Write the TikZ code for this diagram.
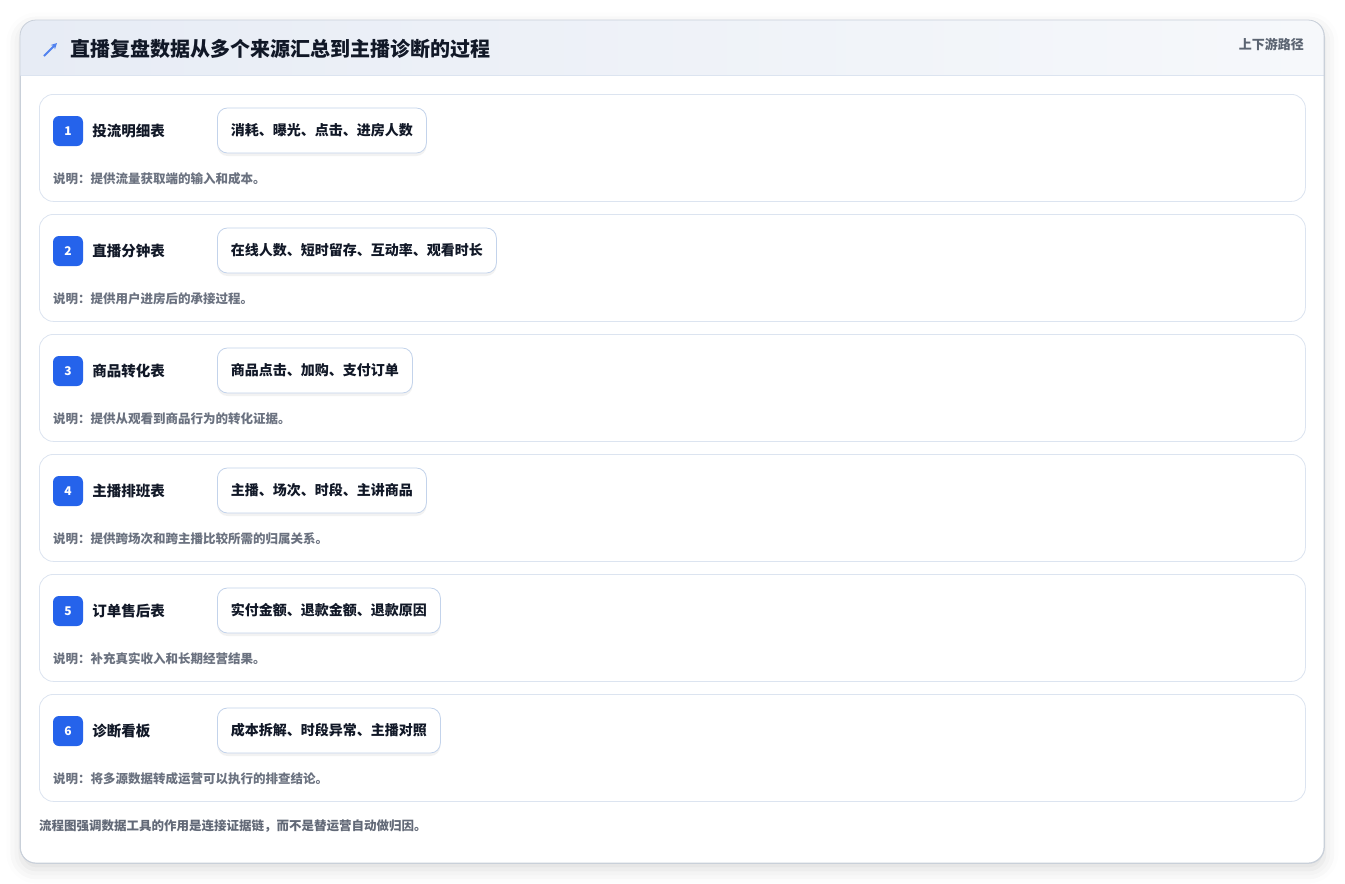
\documentclass[tikz,border=0pt]{standalone}
\usepackage{fontspec}
\setmainfont{Noto Sans CJK SC}
\usetikzlibrary{positioning,arrows.meta,shadows.blur}

\definecolor{ink}{HTML}{111827}
\definecolor{muted}{HTML}{6B7280}
\definecolor{edge}{HTML}{DCE4F0}
\definecolor{chipedge}{HTML}{C3D3EB}
\definecolor{badgeblue}{HTML}{2563EB}
\definecolor{headl}{HTML}{E7ECF5}
\definecolor{headr}{HTML}{F6F8FB}
\definecolor{tagtext}{HTML}{5B6472}

\begin{document}
\begin{tikzpicture}[x=1pt,y=-1pt,
    card/.style={draw=edge!80!gray, fill=white, rounded corners=16pt, line width=0.8pt,
        minimum width=1304pt, minimum height=843pt, anchor=north west,
        blur shadow={shadow xshift=0pt, shadow yshift=-6pt, shadow blur radius=14pt, shadow opacity=14}},
    row/.style={draw=edge, fill=white, rounded corners=14pt, line width=0.8pt,
        minimum width=1266pt, minimum height=107pt, anchor=north west},
    badge/.style={fill=badgeblue, rounded corners=6pt, minimum size=30pt, inner sep=0pt,
        text=white, font=\fontsize{12}{14}\selectfont\bfseries},
    label/.style={inner sep=0pt, anchor=west, text=ink, font=\fontsize{14.5}{17}\selectfont\bfseries},
    chip/.style={draw=chipedge, fill=white, rounded corners=10pt, line width=0.8pt,
        minimum height=45pt, inner xsep=13.5pt, anchor=west, text=ink,
        font=\fontsize{14}{16}\selectfont\bfseries,
        preaction={fill=black, opacity=0.05, transform canvas={yshift=-3pt}}},
    note/.style={inner sep=0pt, anchor=west, text=muted, font=\fontsize{12.5}{15}\selectfont\bfseries}]
    \useasboundingbox (0,0) rectangle (1345,884);
    % outer panel and its header band
    \node[card] (panel) at (20,20) {};
    \begin{scope}
        \clip[rounded corners=16pt] (20,20) rectangle (1324,863);
        \shade[left color=headl, right color=headr] (20,20) rectangle (1324,75);
    \end{scope}
    \draw[edge, line width=0.8pt] (20,75) -- (1324,75);
    \draw[edge!80!gray, line width=0.8pt, rounded corners=16pt] (20,20) rectangle (1324,863);
    \coordinate (icon_a) at (44,56);
    \coordinate (icon_b) at (57,43);
    \draw[badgeblue!80!white, line width=1.8pt, -{Stealth[length=6pt,width=6pt]}] (icon_a) -- (icon_b);
    \node[inner sep=0pt, anchor=west, text=ink, font=\fontsize{20}{24}\selectfont\bfseries] (title) at (70,49)
        {直播复盘数据从多个来源汇总到主播诊断的过程};
    \node[inner sep=0pt, anchor=east, text=tagtext, font=\fontsize{13}{15}\selectfont\bfseries] (tag) at (1304,44)
        {上下游路径};
    % six source rows
    \foreach \i/\name/\fields/\desc in {
        1/投流明细表/消耗、曝光、点击、进房人数/说明：提供流量获取端的输入和成本。,
        2/直播分钟表/在线人数、短时留存、互动率、观看时长/说明：提供用户进房后的承接过程。,
        3/商品转化表/商品点击、加购、支付订单/说明：提供从观看到商品行为的转化证据。,
        4/主播排班表/主播、场次、时段、主讲商品/说明：提供跨场次和跨主播比较所需的归属关系。,
        5/订单售后表/实付金额、退款金额、退款原因/说明：补充真实收入和长期经营结果。,
        6/诊断看板/成本拆解、时段异常、主播对照/说明：将多源数据转成运营可以执行的排查结论。}{
        \pgfmathsetmacro{\top}{94+120*(\i-1)}
        \node[row] (row_\i) at (39,\top) {};
        \node[badge] (num_\i) at (68,\top+37) {\i};
        \node[label, right=9pt of num_\i] (name_\i) {\name};
        \node[chip] (chip_\i) at (217,\top+36.5) {\fields};
        \node[note] (desc_\i) at (53,\top+85) {\desc};
    }
    \node[inner sep=0pt, anchor=west, text=muted!90!ink, font=\fontsize{12.5}{15}\selectfont\bfseries] (foot) at (39,826)
        {流程图强调数据工具的作用是连接证据链，而不是替运营自动做归因。};
\end{tikzpicture}
\end{document}
